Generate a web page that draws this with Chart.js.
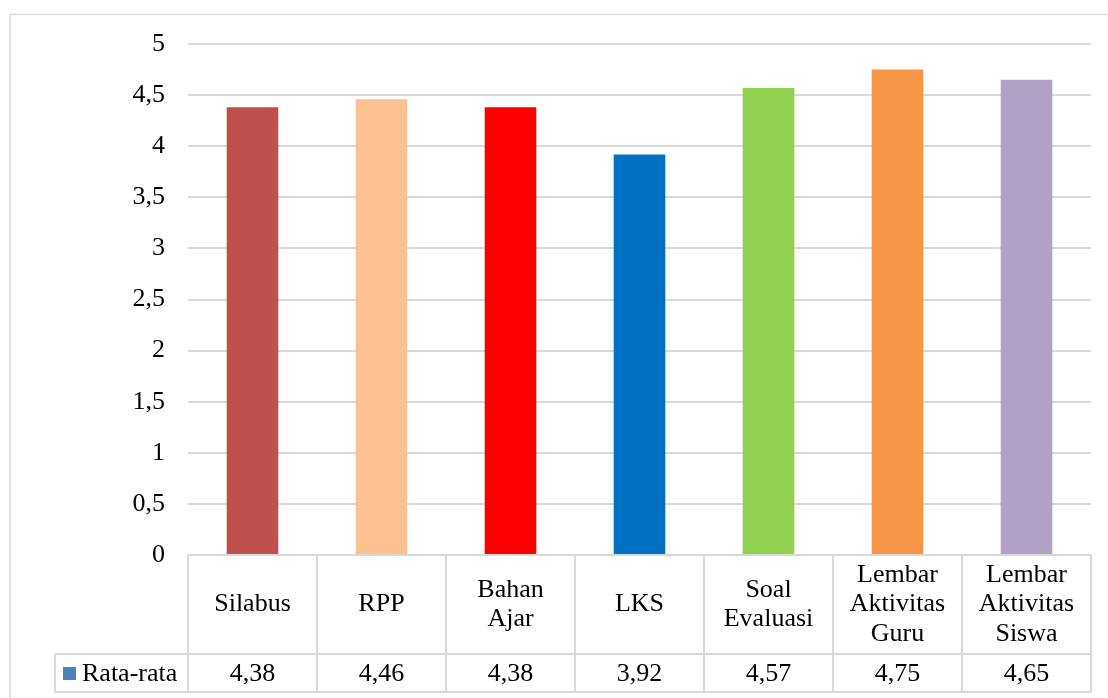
<!DOCTYPE html>
<html>
<head>
<meta charset="utf-8">
<script src="https://cdn.jsdelivr.net/npm/chart.js@4/dist/chart.umd.min.js"></script>
<style>
  html, body { margin: 0; padding: 0; background: #ffffff; }
  canvas { display: block; }
</style>
</head>
<body>
<canvas id="chart" width="1108" height="698"></canvas>
<script>
// Category labels, one entry per line of each label
const categories = [
  ['Silabus'],
  ['RPP'],
  ['Bahan', 'Ajar'],
  ['LKS'],
  ['Soal', 'Evaluasi'],
  ['Lembar', 'Aktivitas', 'Guru'],
  ['Lembar', 'Aktivitas', 'Siswa']
];
const seriesName = 'Rata-rata';
const rataRata = [4.38, 4.46, 4.38, 3.92, 4.57, 4.75, 4.65];
const barColors = ['#C0504D', '#FAC090', '#FF0000', '#0070C0', '#92D050', '#F79646', '#B2A1C7'];
const legendColor = '#4F81BD';
const yMin = 0, yMax = 5, yStep = 0.5;

const FONT = '"Liberation Serif", "Times New Roman", serif';
const FONT_SIZE = 26;
const LINE_COLOR = '#d9d9d9';

// Decimal comma formatting
const fmtTick = v => String(Math.round(v * 10) / 10).replace('.', ',');
const fmtValue = v => v.toFixed(2).replace('.', ',');

// Outer frame of the chart
const framePlugin = {
  id: 'frame',
  beforeDraw(chart) {
    const ctx = chart.ctx;
    ctx.save();
    ctx.strokeStyle = LINE_COLOR;
    ctx.lineWidth = 1.5;
    ctx.beginPath();
    ctx.moveTo(10, chart.height);
    ctx.lineTo(10, 14.5);
    ctx.lineTo(chart.width, 14.5);
    ctx.stroke();
    ctx.restore();
  }
};

// Data table under the plot: category row, then value row with legend key
const dataTablePlugin = {
  id: 'dataTable',
  afterDraw(chart) {
    const ctx = chart.ctx;
    const area = chart.chartArea;
    const xs = chart.scales.x;
    const n = categories.length;
    const colW = (area.right - area.left) / n;
    const top = area.bottom;
    const mid = top + 99;
    const bottom = top + 137;
    const legendLeft = 55;

    ctx.save();
    ctx.strokeStyle = LINE_COLOR;
    ctx.lineWidth = 2;
    ctx.beginPath();
    ctx.moveTo(area.left, top); ctx.lineTo(area.right, top);
    ctx.moveTo(legendLeft, mid); ctx.lineTo(area.right, mid);
    ctx.moveTo(legendLeft, bottom); ctx.lineTo(area.right, bottom);
    for (let i = 0; i <= n; i++) {
      const x = area.left + i * colW;
      ctx.moveTo(x, top); ctx.lineTo(x, bottom);
    }
    ctx.moveTo(legendLeft, mid); ctx.lineTo(legendLeft, bottom);
    ctx.stroke();

    ctx.fillStyle = '#000000';
    ctx.font = FONT_SIZE + 'px ' + FONT;
    ctx.textAlign = 'center';
    ctx.textBaseline = 'middle';
    const lineH = 29.5;
    const headCenter = (top + mid) / 2;
    categories.forEach((lines, i) => {
      const cx = xs.getPixelForValue(i);
      const y0 = headCenter - (lines.length - 1) * lineH / 2;
      lines.forEach((t, k) => ctx.fillText(t, cx, y0 + k * lineH));
      ctx.fillText(fmtValue(rataRata[i]), cx, (mid + bottom) / 2 + 1);
    });

    // legend key
    const rowC = (mid + bottom) / 2;
    ctx.fillStyle = legendColor;
    ctx.fillRect(63, rowC - 6, 13, 13);
    ctx.fillStyle = '#000000';
    ctx.textAlign = 'left';
    ctx.fillText(seriesName, 82, rowC + 1);
    ctx.restore();
  }
};

new Chart(document.getElementById('chart'), {
  type: 'bar',
  data: {
    labels: categories.map(c => c.join(' ')),
    datasets: [{
      label: seriesName,
      data: rataRata,
      backgroundColor: barColors,
      borderWidth: 0,
      categoryPercentage: 1,
      barPercentage: 0.4
    }]
  },
  options: {
    responsive: false,
    animation: false,
    layout: { padding: { top: 44, bottom: 143, left: 0, right: 17 } },
    plugins: { legend: { display: false }, tooltip: { enabled: false } },
    scales: {
      x: { display: false },
      y: {
        min: yMin,
        max: yMax,
        afterFit(scale) { scale.width = 188; },
        border: { display: false },
        grid: { color: LINE_COLOR, lineWidth: 2, drawTicks: false },
        ticks: {
          stepSize: yStep,
          padding: 23,
          color: '#000000',
          font: { family: FONT, size: FONT_SIZE },
          callback: v => fmtTick(v)
        }
      }
    }
  },
  plugins: [framePlugin, dataTablePlugin]
});
</script>
</body>
</html>
